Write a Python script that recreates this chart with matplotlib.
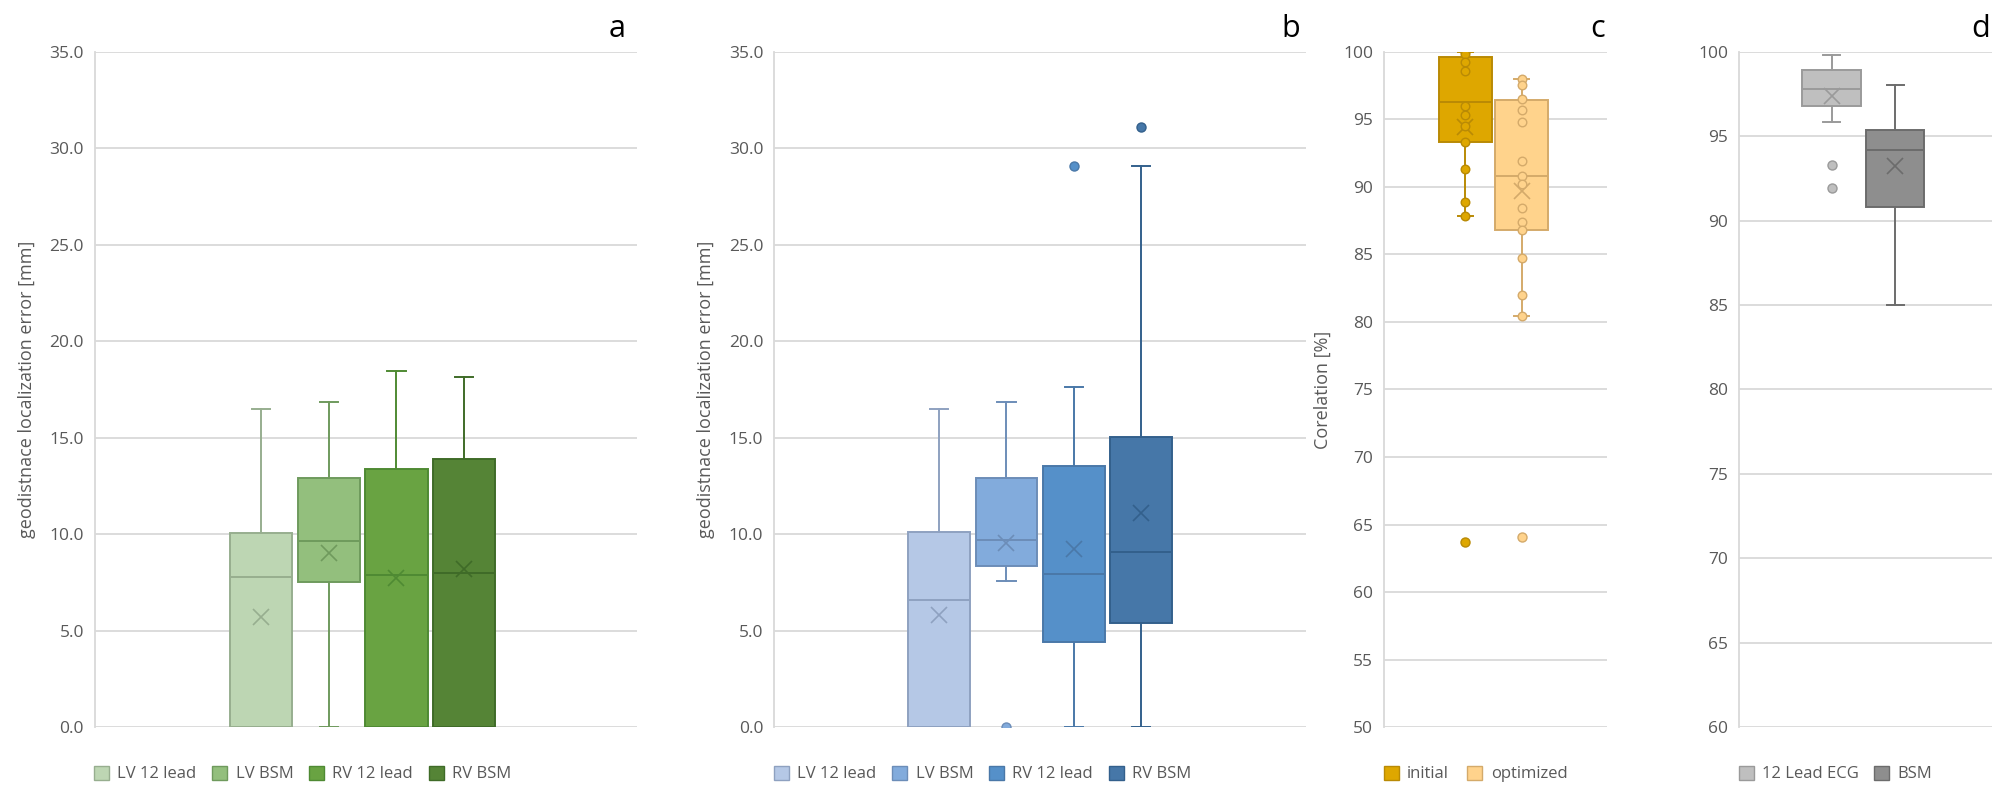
import matplotlib.pyplot as plt
from matplotlib.patches import Patch
import numpy as np

plt.rcParams['font.family'] = ['Open Sans', 'DejaVu Sans']

# panel a / b : localization error [mm]
names_ab = ['LV 12 lead', 'LV BSM', 'RV 12 lead', 'RV BSM']
a_q1 = [0.0, 7.55, 0.0, 0.0]
a_med = [7.77, 9.63, 7.91, 7.97]
a_q3 = [10.06, 12.9, 13.37, 13.9]
a_lo = [0.0, 0.0, 0.0, 0.0]
a_hi = [16.5, 16.86, 18.47, 18.16]
a_mean = [5.7, 9.03, 7.73, 8.18]
a_fliers = [[], [], [], []]

b_q1 = [0.0, 8.38, 4.4, 5.4]
b_med = [6.6, 9.69, 7.93, 9.07]
b_q3 = [10.1, 12.93, 13.53, 15.04]
b_lo = [0.0, 7.56, 0.0, 0.0]
b_hi = [16.48, 16.85, 17.62, 29.05]
b_mean = [5.8, 9.57, 9.24, 11.12]
b_fliers = [[], [0.0], [29.1], [31.08]]

# panel c : correlation initial / optimized
names_c = ['initial', 'optimized']
c_q1 = [93.3, 86.8]
c_med = [96.3, 90.8]
c_q3 = [99.6, 96.4]
c_lo = [87.8, 80.4]
c_hi = [100.0, 98.0]
c_mean = [94.4, 89.7]
c_fliers = [[63.7], [64.1]]
c_points_init = [100.0, 99.8, 99.2, 98.6, 96.0, 95.3, 94.5, 93.3, 91.3, 88.9, 87.8]
c_points_opt = [98.0, 97.5, 96.5, 95.7, 94.8, 91.9, 90.8, 90.2, 88.4, 87.4, 86.8, 84.7, 82.0, 80.4]

# panel d
names_d = ['12 Lead ECG', 'BSM']
d_q1 = [96.8, 90.8]
d_med = [97.8, 94.2]
d_q3 = [98.9, 95.35]
d_lo = [95.86, 85.0]
d_hi = [99.8, 98.05]
d_mean = [97.4, 93.2]
d_fliers = [[93.3, 91.9], []]

green_fc = ['#bdd6b3', '#93bf7d', '#69a342', '#558436']
green_ec = ['#97ae8f', '#6f9a5d', '#4f8a33', '#3f6b28']
blue_fc = ['#b5c8e6', '#82abdc', '#5590c9', '#4677a8']
blue_ec = ['#8ea1c0', '#6c8db8', '#4a78a8', '#33608c']
gold_fc = ['#dea700', '#ffd38c']
gold_ec = ['#b98a05', '#d4aa6a']
gray_fc = ['#bfbfbf', '#8e8e8e']
gray_ec = ['#9a9a9a', '#6c6c6c']

grid_c = '#d9d9d9'
txt_c = '#595959'


def make_stats(q1, med, q3, lo, hi, mean, fl):
    out = []
    for i in range(len(q1)):
        out.append(dict(q1=q1[i], med=med[i], q3=q3[i], whislo=lo[i],
                        whishi=hi[i], mean=mean[i], fliers=fl[i]))
    return out


def draw(ax, stats, fcs, ecs, xlim, width=0.92):
    pos = np.arange(1, len(stats) + 1)
    for i, st in enumerate(stats):
        fc = fcs[i]
        ec = ecs[i]
        ax.bxp([st], positions=[pos[i]], widths=width, capwidths=0.27,
               patch_artist=True, showmeans=True,
               boxprops=dict(facecolor=fc, edgecolor=ec, linewidth=1.4),
               medianprops=dict(color=ec, linewidth=1.4),
               whiskerprops=dict(color=ec, linewidth=1.4),
               capprops=dict(color=ec, linewidth=1.4),
               meanprops=dict(marker='x', markeredgecolor=ec, markersize=11,
                              markeredgewidth=1.2),
               flierprops=dict(marker='o', markerfacecolor=fc, markeredgecolor=ec,
                               markersize=6.5))
    ax.set_xlim(*xlim)


def style(ax, ylim, ticks, fmt):
    ax.set_ylim(*ylim)
    ax.set_yticks(ticks)
    ax.set_yticklabels([fmt % t for t in ticks])
    ax.set_xticks([])
    ax.grid(axis='y', color=grid_c, linewidth=1.3)
    ax.set_axisbelow(True)
    for s in ['top', 'right', 'bottom']:
        ax.spines[s].set_visible(False)
    ax.spines['left'].set_color(grid_c)
    ax.spines['left'].set_linewidth(1.3)
    ax.tick_params(axis='y', length=0, labelsize=12.5, colors=txt_c, pad=8)


fig = plt.figure(figsize=(20.06, 7.94), dpi=100)
bot, hgt = 0.084, 0.851
ax_a = fig.add_axes([0.0474, bot, 0.270, hgt])
ax_b = fig.add_axes([0.386, bot, 0.265, hgt])
ax_c = fig.add_axes([0.690, bot, 0.111, hgt])
ax_d = fig.add_axes([0.867, bot, 0.126, hgt])

draw(ax_a, make_stats(a_q1, a_med, a_q3, a_lo, a_hi, a_mean, a_fliers), green_fc, green_ec, (-1.45, 6.55))
draw(ax_b, make_stats(b_q1, b_med, b_q3, b_lo, b_hi, b_mean, b_fliers), blue_fc, blue_ec, (-1.45, 6.45))
draw(ax_c, make_stats(c_q1, c_med, c_q3, c_lo, c_hi, c_mean, c_fliers), gold_fc, gold_ec, (-0.45, 3.52), 0.93)
draw(ax_d, make_stats(d_q1, d_med, d_q3, d_lo, d_hi, d_mean, d_fliers), gray_fc, gray_ec, (-0.45, 3.52), 0.92)

# inner points of panel c
ax_c.scatter(np.full(len(c_points_init), 1), c_points_init, s=38, facecolor=gold_fc[0],
             edgecolor=gold_ec[0], linewidth=1.0, zorder=5)
ax_c.scatter(np.full(len(c_points_opt), 2), c_points_opt, s=38, facecolor=gold_fc[1],
             edgecolor=gold_ec[1], linewidth=1.0, zorder=5)

ticks_ab = np.arange(0, 35.1, 5)
ticks_cd = np.arange(50, 100.1, 5)
style(ax_a, (0, 35), ticks_ab, '%.1f')
style(ax_b, (0, 35), ticks_ab, '%.1f')
style(ax_c, (50, 100), ticks_cd, '%d')
style(ax_d, (60, 100), np.arange(60, 100.1, 5), '%d')

ax_a.set_ylabel('geodistnace localization error [mm]', fontsize=13, color=txt_c, labelpad=10)
ax_b.set_ylabel('geodistnace localization error [mm]', fontsize=13, color=txt_c, labelpad=10)
ax_c.set_ylabel('Corelation [%]', fontsize=13, color=txt_c, labelpad=8)

for ax, lab, xx in [(ax_a, 'a', 0.964), (ax_b, 'b', 0.971), (ax_c, 'c', 0.96), (ax_d, 'd', 0.955)]:
    ax.text(xx, 1.012, lab, transform=ax.transAxes, fontsize=22, ha='center', va='bottom',
            color='black')


def legend(names, fcs, ecs, x0, spacing):
    handles = [Patch(facecolor=fcs[i], edgecolor=ecs[i], label=names[i]) for i in range(len(names))]
    fig.legend(handles=handles, loc='lower left', bbox_to_anchor=(x0, 0.0), ncol=len(names),
               frameon=False, fontsize=12, handlelength=0.9, handleheight=0.9,
               handletextpad=0.5, columnspacing=spacing, labelcolor=txt_c,
               borderaxespad=0.3)


legend(names_ab, green_fc, green_ec, 0.041, 0.95)
legend(names_ab, blue_fc, blue_ec, 0.380, 0.95)
legend(names_c, gold_fc, gold_ec, 0.684, 1.1)
legend(names_d, gray_fc, gray_ec, 0.861, 0.9)

fig.savefig('out.png', dpi=100)
